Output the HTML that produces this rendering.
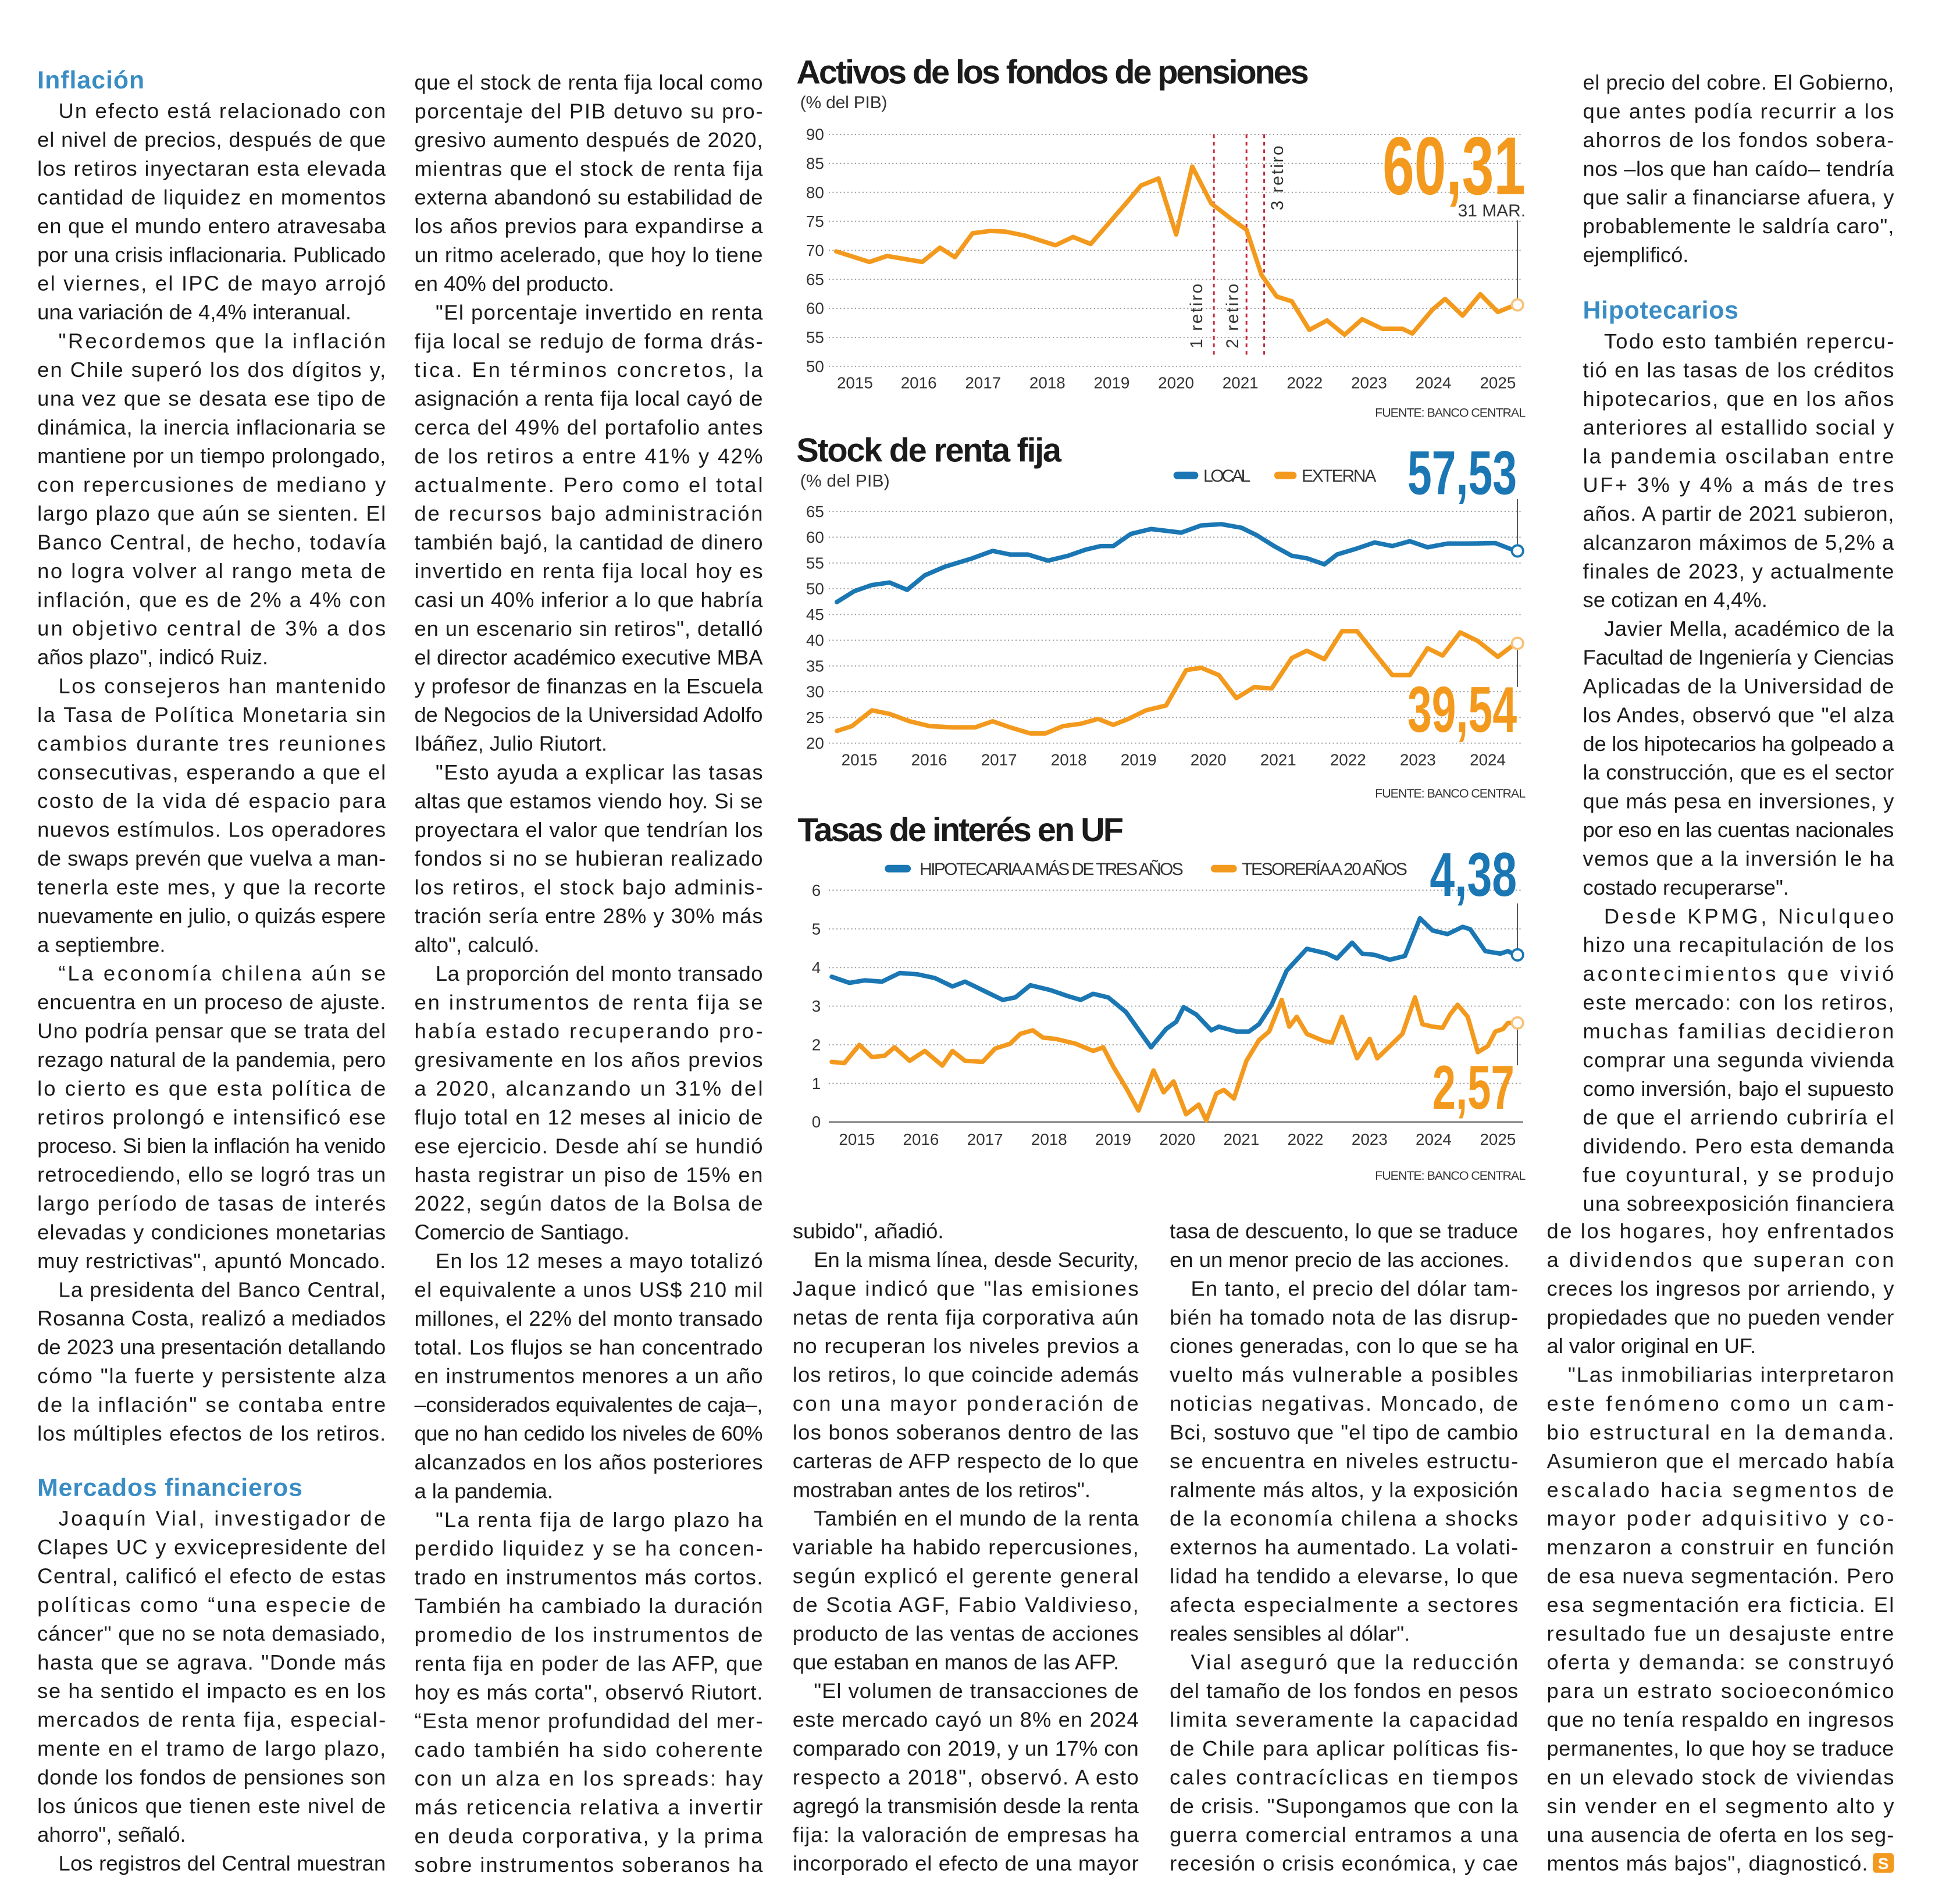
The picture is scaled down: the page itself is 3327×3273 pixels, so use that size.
<!DOCTYPE html>
<html><head><meta charset="utf-8"><style>
html,body{margin:0;padding:0;background:#fff;}
svg{display:block}
.b{font-family:"Liberation Sans",sans-serif;font-size:17px;fill:#1b1b1b}
.h{font-family:"Liberation Sans",sans-serif;font-size:20px;font-weight:bold;fill:#3a8dc4}
.t{font-family:"Liberation Sans",sans-serif;font-size:27px;font-weight:bold;fill:#1b1b1b}
.s{font-family:"Liberation Sans",sans-serif;font-size:14px;fill:#333}
.ax{font-family:"Liberation Sans",sans-serif;font-size:13px;fill:#333}
.f{font-family:"Liberation Sans",sans-serif;font-size:10px;fill:#333}
.big{font-family:"Liberation Sans",sans-serif;font-weight:bold}
.g{stroke:#9a9a9a;stroke-width:0.9;stroke-dasharray:1 2}
</style></head><body>
<svg width="3327" height="3273" viewBox="0 0 1555 1530" preserveAspectRatio="none" xmlns="http://www.w3.org/2000/svg">
<rect width="1555" height="1530" fill="#fff"/>

<!-- COLUMN 1 -->
<text class="h" x="30" y="71" textLength="86">Inflación</text>
<g class="b" transform="translate(30,95)">
<text x="17" y="0" textLength="263">Un efecto está relacionado con</text>
<text y="23.1" textLength="280">el nivel de precios, después de que</text>
<text y="46.2" textLength="280">los retiros inyectaran esta elevada</text>
<text y="69.3" textLength="280">cantidad de liquidez en momentos</text>
<text y="92.4" textLength="280">en que el mundo entero atravesaba</text>
<text y="115.5" textLength="280">por una crisis inflacionaria. Publicado</text>
<text y="138.6" textLength="280">el viernes, el IPC de mayo arrojó</text>
<text y="161.7">una variación de 4,4% interanual.</text>
<text x="17" y="184.8" textLength="263">"Recordemos que la inflación</text>
<text y="207.9" textLength="280">en Chile superó los dos dígitos y,</text>
<text y="231" textLength="280">una vez que se desata ese tipo de</text>
<text y="254.1" textLength="280">dinámica, la inercia inflacionaria se</text>
<text y="277.2" textLength="280">mantiene por un tiempo prolongado,</text>
<text y="300.3" textLength="280">con repercusiones de mediano y</text>
<text y="323.4" textLength="280">largo plazo que aún se sienten. El</text>
<text y="346.5" textLength="280">Banco Central, de hecho, todavía</text>
<text y="369.6" textLength="280">no logra volver al rango meta de</text>
<text y="392.7" textLength="280">inflación, que es de 2% a 4% con</text>
<text y="415.8" textLength="280">un objetivo central de 3% a dos</text>
<text y="438.9">años plazo", indicó Ruiz.</text>
<text x="17" y="462" textLength="263">Los consejeros han mantenido</text>
<text y="485.1" textLength="280">la Tasa de Política Monetaria sin</text>
<text y="508.2" textLength="280">cambios durante tres reuniones</text>
<text y="531.3" textLength="280">consecutivas, esperando a que el</text>
<text y="554.4" textLength="280">costo de la vida dé espacio para</text>
<text y="577.5" textLength="280">nuevos estímulos. Los operadores</text>
<text y="600.6" textLength="280">de swaps prevén que vuelva a man-</text>
<text y="623.7" textLength="280">tenerla este mes, y que la recorte</text>
<text y="646.8" textLength="280">nuevamente en julio, o quizás espere</text>
<text y="669.9">a septiembre.</text>
<text x="17" y="693" textLength="263">“La economía chilena aún se</text>
<text y="716.1" textLength="280">encuentra en un proceso de ajuste.</text>
<text y="739.2" textLength="280">Uno podría pensar que se trata del</text>
<text y="762.3" textLength="280">rezago natural de la pandemia, pero</text>
<text y="785.4" textLength="280">lo cierto es que esta política de</text>
<text y="808.5" textLength="280">retiros prolongó e intensificó ese</text>
<text y="831.6" textLength="280">proceso. Si bien la inflación ha venido</text>
<text y="854.7" textLength="280">retrocediendo, ello se logró tras un</text>
<text y="877.8" textLength="280">largo período de tasas de interés</text>
<text y="900.9" textLength="280">elevadas y condiciones monetarias</text>
<text y="924" textLength="280">muy restrictivas", apuntó Moncado.</text>
<text x="17" y="947.1" textLength="263">La presidenta del Banco Central,</text>
<text y="970.2" textLength="280">Rosanna Costa, realizó a mediados</text>
<text y="993.3" textLength="280">de 2023 una presentación detallando</text>
<text y="1016.4" textLength="280">cómo "la fuerte y persistente alza</text>
<text y="1039.5" textLength="280">de la inflación" se contaba entre</text>
<text y="1062.6" textLength="280">los múltiples efectos de los retiros.</text>
</g>
<text class="h" x="30" y="1202" textLength="213">Mercados financieros</text>
<g class="b" transform="translate(30,1226)">
<text x="17" y="0" textLength="263">Joaquín Vial, investigador de</text>
<text y="23.1" textLength="280">Clapes UC y exvicepresidente del</text>
<text y="46.2" textLength="280">Central, calificó el efecto de estas</text>
<text y="69.3" textLength="280">políticas como “una especie de</text>
<text y="92.4" textLength="280">cáncer" que no se nota demasiado,</text>
<text y="115.5" textLength="280">hasta que se agrava. "Donde más</text>
<text y="138.6" textLength="280">se ha sentido el impacto es en los</text>
<text y="161.7" textLength="280">mercados de renta fija, especial-</text>
<text y="184.8" textLength="280">mente en el tramo de largo plazo,</text>
<text y="207.9" textLength="280">donde los fondos de pensiones son</text>
<text y="231" textLength="280">los únicos que tienen este nivel de</text>
<text y="254.1">ahorro", señaló.</text>
<text x="17" y="277.2" textLength="263">Los registros del Central muestran</text>
</g>

<!-- COLUMN 2 -->
<g class="b" transform="translate(333,72)">
<text y="0" textLength="280">que el stock de renta fija local como</text>
<text y="23.1" textLength="280">porcentaje del PIB detuvo su pro-</text>
<text y="46.2" textLength="280">gresivo aumento después de 2020,</text>
<text y="69.3" textLength="280">mientras que el stock de renta fija</text>
<text y="92.4" textLength="280">externa abandonó su estabilidad de</text>
<text y="115.5" textLength="280">los años previos para expandirse a</text>
<text y="138.6" textLength="280">un ritmo acelerado, que hoy lo tiene</text>
<text y="161.7">en 40% del producto.</text>
<text x="17" y="184.8" textLength="263">"El porcentaje invertido en renta</text>
<text y="207.9" textLength="280">fija local se redujo de forma drás-</text>
<text y="231" textLength="280">tica. En términos concretos, la</text>
<text y="254.1" textLength="280">asignación a renta fija local cayó de</text>
<text y="277.2" textLength="280">cerca del 49% del portafolio antes</text>
<text y="300.3" textLength="280">de los retiros a entre 41% y 42%</text>
<text y="323.4" textLength="280">actualmente. Pero como el total</text>
<text y="346.5" textLength="280">de recursos bajo administración</text>
<text y="369.6" textLength="280">también bajó, la cantidad de dinero</text>
<text y="392.7" textLength="280">invertido en renta fija local hoy es</text>
<text y="415.8" textLength="280">casi un 40% inferior a lo que habría</text>
<text y="438.9" textLength="280">en un escenario sin retiros", detalló</text>
<text y="462" textLength="280">el director académico executive MBA</text>
<text y="485.1" textLength="280">y profesor de finanzas en la Escuela</text>
<text y="508.2" textLength="280">de Negocios de la Universidad Adolfo</text>
<text y="531.3">Ibáñez, Julio Riutort.</text>
<text x="17" y="554.4" textLength="263">"Esto ayuda a explicar las tasas</text>
<text y="577.5" textLength="280">altas que estamos viendo hoy. Si se</text>
<text y="600.6" textLength="280">proyectara el valor que tendrían los</text>
<text y="623.7" textLength="280">fondos si no se hubieran realizado</text>
<text y="646.8" textLength="280">los retiros, el stock bajo adminis-</text>
<text y="669.9" textLength="280">tración sería entre 28% y 30% más</text>
<text y="693">alto", calculó.</text>
<text x="17" y="716.1" textLength="263">La proporción del monto transado</text>
<text y="739.2" textLength="280">en instrumentos de renta fija se</text>
<text y="762.3" textLength="280">había estado recuperando pro-</text>
<text y="785.4" textLength="280">gresivamente en los años previos</text>
<text y="808.5" textLength="280">a 2020, alcanzando un 31% del</text>
<text y="831.6" textLength="280">flujo total en 12 meses al inicio de</text>
<text y="854.7" textLength="280">ese ejercicio. Desde ahí se hundió</text>
<text y="877.8" textLength="280">hasta registrar un piso de 15% en</text>
<text y="900.9" textLength="280">2022, según datos de la Bolsa de</text>
<text y="924">Comercio de Santiago.</text>
<text x="17" y="947.1" textLength="263">En los 12 meses a mayo totalizó</text>
<text y="970.2" textLength="280">el equivalente a unos US$ 210 mil</text>
<text y="993.3" textLength="280">millones, el 22% del monto transado</text>
<text y="1016.4" textLength="280">total. Los flujos se han concentrado</text>
<text y="1039.5" textLength="280">en instrumentos menores a un año</text>
<text y="1062.6" textLength="280">–considerados equivalentes de caja–,</text>
<text y="1085.7" textLength="280">que no han cedido los niveles de 60%</text>
<text y="1108.8" textLength="280">alcanzados en los años posteriores</text>
<text y="1131.9">a la pandemia.</text>
<text x="17" y="1155" textLength="263">"La renta fija de largo plazo ha</text>
<text y="1178.1" textLength="280">perdido liquidez y se ha concen-</text>
<text y="1201.2" textLength="280">trado en instrumentos más cortos.</text>
<text y="1224.3" textLength="280">También ha cambiado la duración</text>
<text y="1247.4" textLength="280">promedio de los instrumentos de</text>
<text y="1270.5" textLength="280">renta fija en poder de las AFP, que</text>
<text y="1293.6" textLength="280">hoy es más corta", observó Riutort.</text>
<text y="1316.7" textLength="280">“Esta menor profundidad del mer-</text>
<text y="1339.8" textLength="280">cado también ha sido coherente</text>
<text y="1362.9" textLength="280">con un alza en los spreads: hay</text>
<text y="1386" textLength="280">más reticencia relativa a invertir</text>
<text y="1409.1" textLength="280">en deuda corporativa, y la prima</text>
<text y="1432.2" textLength="280">sobre instrumentos soberanos ha</text>
</g>

<!-- COLUMN 3 -->
<g class="b" transform="translate(637,995)">
<text y="0">subido", añadió.</text>
<text x="17" y="23.1" textLength="261">En la misma línea, desde Security,</text>
<text y="46.2" textLength="278">Jaque indicó que "las emisiones</text>
<text y="69.3" textLength="278">netas de renta fija corporativa aún</text>
<text y="92.4" textLength="278">no recuperan los niveles previos a</text>
<text y="115.5" textLength="278">los retiros, lo que coincide además</text>
<text y="138.6" textLength="278">con una mayor ponderación de</text>
<text y="161.7" textLength="278">los bonos soberanos dentro de las</text>
<text y="184.8" textLength="278">carteras de AFP respecto de lo que</text>
<text y="207.9">mostraban antes de los retiros".</text>
<text x="17" y="231" textLength="261">También en el mundo de la renta</text>
<text y="254.1" textLength="278">variable ha habido repercusiones,</text>
<text y="277.2" textLength="278">según explicó el gerente general</text>
<text y="300.3" textLength="278">de Scotia AGF, Fabio Valdivieso,</text>
<text y="323.4" textLength="278">producto de las ventas de acciones</text>
<text y="346.5">que estaban en manos de las AFP.</text>
<text x="17" y="369.6" textLength="261">"El volumen de transacciones de</text>
<text y="392.7" textLength="278">este mercado cayó un 8% en 2024</text>
<text y="415.8" textLength="278">comparado con 2019, y un 17% con</text>
<text y="438.9" textLength="278">respecto a 2018", observó. A esto</text>
<text y="462" textLength="278">agregó la transmisión desde la renta</text>
<text y="485.1" textLength="278">fija: la valoración de empresas ha</text>
<text y="508.2" textLength="278">incorporado el efecto de una mayor</text>
</g>

<!-- COLUMN 4 -->
<g class="b" transform="translate(940,995)">
<text y="0" textLength="280">tasa de descuento, lo que se traduce</text>
<text y="23.1">en un menor precio de las acciones.</text>
<text x="17" y="46.2" textLength="263">En tanto, el precio del dólar tam-</text>
<text y="69.3" textLength="280">bién ha tomado nota de las disrup-</text>
<text y="92.4" textLength="280">ciones generadas, con lo que se ha</text>
<text y="115.5" textLength="280">vuelto más vulnerable a posibles</text>
<text y="138.6" textLength="280">noticias negativas. Moncado, de</text>
<text y="161.7" textLength="280">Bci, sostuvo que "el tipo de cambio</text>
<text y="184.8" textLength="280">se encuentra en niveles estructu-</text>
<text y="207.9" textLength="280">ralmente más altos, y la exposición</text>
<text y="231" textLength="280">de la economía chilena a shocks</text>
<text y="254.1" textLength="280">externos ha aumentado. La volati-</text>
<text y="277.2" textLength="280">lidad ha tendido a elevarse, lo que</text>
<text y="300.3" textLength="280">afecta especialmente a sectores</text>
<text y="323.4">reales sensibles al dólar".</text>
<text x="17" y="346.5" textLength="263">Vial aseguró que la reducción</text>
<text y="369.6" textLength="280">del tamaño de los fondos en pesos</text>
<text y="392.7" textLength="280">limita severamente la capacidad</text>
<text y="415.8" textLength="280">de Chile para aplicar políticas fis-</text>
<text y="438.9" textLength="280">cales contracíclicas en tiempos</text>
<text y="462" textLength="280">de crisis. "Supongamos que con la</text>
<text y="485.1" textLength="280">guerra comercial entramos a una</text>
<text y="508.2" textLength="280">recesión o crisis económica, y cae</text>
</g>

<!-- COLUMN 5 -->
<g class="b" transform="translate(1272,72)">
<text y="0" textLength="250">el precio del cobre. El Gobierno,</text>
<text y="23.1" textLength="250">que antes podía recurrir a los</text>
<text y="46.2" textLength="250">ahorros de los fondos sobera-</text>
<text y="69.3" textLength="250">nos –los que han caído– tendría</text>
<text y="92.4" textLength="250">que salir a financiarse afuera, y</text>
<text y="115.5" textLength="250">probablemente le saldría caro",</text>
<text y="138.6">ejemplificó.</text>
</g>
<text class="h" x="1272" y="256" textLength="125">Hipotecarios</text>
<g class="b" transform="translate(1272,280)">
<text x="17" y="0" textLength="233">Todo esto también repercu-</text>
<text y="23.1" textLength="250">tió en las tasas de los créditos</text>
<text y="46.2" textLength="250">hipotecarios, que en los años</text>
<text y="69.3" textLength="250">anteriores al estallido social y</text>
<text y="92.4" textLength="250">la pandemia oscilaban entre</text>
<text y="115.5" textLength="250">UF+ 3% y 4% a más de tres</text>
<text y="138.6" textLength="250">años. A partir de 2021 subieron,</text>
<text y="161.7" textLength="250">alcanzaron máximos de 5,2% a</text>
<text y="184.8" textLength="250">finales de 2023, y actualmente</text>
<text y="207.9">se cotizan en 4,4%.</text>
<text x="17" y="231" textLength="233">Javier Mella, académico de la</text>
<text y="254.1" textLength="250">Facultad de Ingeniería y Ciencias</text>
<text y="277.2" textLength="250">Aplicadas de la Universidad de</text>
<text y="300.3" textLength="250">los Andes, observó que "el alza</text>
<text y="323.4" textLength="250">de los hipotecarios ha golpeado a</text>
<text y="346.5" textLength="250">la construcción, que es el sector</text>
<text y="369.6" textLength="250">que más pesa en inversiones, y</text>
<text y="392.7" textLength="250">por eso en las cuentas nacionales</text>
<text y="415.8" textLength="250">vemos que a la inversión le ha</text>
<text y="438.9">costado recuperarse".</text>
<text x="17" y="462" textLength="233">Desde KPMG, Niculqueo</text>
<text y="485.1" textLength="250">hizo una recapitulación de los</text>
<text y="508.2" textLength="250">acontecimientos que vivió</text>
<text y="531.3" textLength="250">este mercado: con los retiros,</text>
<text y="554.4" textLength="250">muchas familias decidieron</text>
<text y="577.5" textLength="250">comprar una segunda vivienda</text>
<text y="600.6" textLength="250">como inversión, bajo el supuesto</text>
<text y="623.7" textLength="250">de que el arriendo cubriría el</text>
<text y="646.8" textLength="250">dividendo. Pero esta demanda</text>
<text y="669.9" textLength="250">fue coyuntural, y se produjo</text>
<text y="693" textLength="250">una sobreexposición financiera</text>
</g>
<g class="b" transform="translate(1243,995)">
<text y="0" textLength="279">de los hogares, hoy enfrentados</text>
<text y="23.1" textLength="279">a dividendos que superan con</text>
<text y="46.2" textLength="279">creces los ingresos por arriendo, y</text>
<text y="69.3" textLength="279">propiedades que no pueden vender</text>
<text y="92.4">al valor original en UF.</text>
<text x="17" y="115.5" textLength="262">"Las inmobiliarias interpretaron</text>
<text y="138.6" textLength="279">este fenómeno como un cam-</text>
<text y="161.7" textLength="279">bio estructural en la demanda.</text>
<text y="184.8" textLength="279">Asumieron que el mercado había</text>
<text y="207.9" textLength="279">escalado hacia segmentos de</text>
<text y="231" textLength="279">mayor poder adquisitivo y co-</text>
<text y="254.1" textLength="279">menzaron a construir en función</text>
<text y="277.2" textLength="279">de esa nueva segmentación. Pero</text>
<text y="300.3" textLength="279">esa segmentación era ficticia. El</text>
<text y="323.4" textLength="279">resultado fue un desajuste entre</text>
<text y="346.5" textLength="279">oferta y demanda: se construyó</text>
<text y="369.6" textLength="279">para un estrato socioeconómico</text>
<text y="392.7" textLength="279">que no tenía respaldo en ingresos</text>
<text y="415.8" textLength="279">permanentes, lo que hoy se traduce</text>
<text y="438.9" textLength="279">en un elevado stock de viviendas</text>
<text y="462" textLength="279">sin vender en el segmento alto y</text>
<text y="485.1" textLength="279">una ausencia de oferta en los seg-</text>
<text y="508.2" textLength="258">mentos más bajos", diagnosticó.</text>
</g>
<rect x="1505" y="1489" width="17" height="16" rx="3" fill="#f39a1e"/>
<text x="1513.5" y="1502" text-anchor="middle" font-family="Liberation Sans" font-size="13" font-weight="bold" fill="#fff">S</text>

<!-- CHART 1 -->
<text class="t" x="640" y="67" textLength="412">Activos de los fondos de pensiones</text>
<text class="s" x="643" y="87" textLength="70">(% del PIB)</text>
<g class="g">
<line x1="666" x2="1224" y1="108" y2="108"/><line x1="666" x2="1224" y1="131.3" y2="131.3"/><line x1="666" x2="1224" y1="154.6" y2="154.6"/><line x1="666" x2="1224" y1="177.9" y2="177.9"/><line x1="666" x2="1224" y1="201.2" y2="201.2"/><line x1="666" x2="1224" y1="224.5" y2="224.5"/><line x1="666" x2="1224" y1="247.8" y2="247.8"/><line x1="666" x2="1224" y1="271.1" y2="271.1"/><line x1="666" x2="1224" y1="294.4" y2="294.4"/>
</g>
<g class="ax" text-anchor="middle">
<text x="655" y="112.5">90</text><text x="655" y="135.8">85</text><text x="655" y="159.1">80</text><text x="655" y="182.4">75</text><text x="655" y="205.7">70</text><text x="655" y="229">65</text><text x="655" y="252.3">60</text><text x="655" y="275.6">55</text><text x="655" y="298.9">50</text>
<text x="687" y="312">2015</text><text x="738.3" y="312">2016</text><text x="790" y="312">2017</text><text x="841.7" y="312">2018</text><text x="893.4" y="312">2019</text><text x="945.1" y="312">2020</text><text x="996.8" y="312">2021</text><text x="1048.5" y="312">2022</text><text x="1100.2" y="312">2023</text><text x="1151.9" y="312">2024</text><text x="1203.7" y="312">2025</text>
</g>
<g stroke="#c8283c" stroke-width="1.4" stroke-dasharray="3 3">
<line x1="975.5" x2="975.5" y1="108" y2="288"/><line x1="1001.7" x2="1001.7" y1="108" y2="288"/><line x1="1015.9" x2="1015.9" y1="108" y2="288"/>
</g>
<g class="s" font-size="14">
<text transform="translate(966,254) rotate(-90)" text-anchor="middle" textLength="52">1 retiro</text>
<text transform="translate(995,254) rotate(-90)" text-anchor="middle" textLength="52">2 retiro</text>
<text transform="translate(1031,143) rotate(-90)" text-anchor="middle" textLength="52">3 retiro</text>
</g>
<polyline fill="none" stroke="#f39a1e" stroke-width="3.6" stroke-linejoin="round" stroke-linecap="round" points="672,202 698.7,210.5 712.9,205.7 741.1,210.5 755.3,199 767.4,206.7 781.5,187.5 795.7,185.6 807.8,186.1 824,189.4 848.2,197.1 862.3,190.4 876.5,196.1 904.8,163.5 916.9,149.1 931,143.4 945.2,188.4 958.1,133.8 973.4,163.5 989.6,176 1001.7,184.6 1013.8,221 1026,238.3 1038.1,242.1 1052.2,265.1 1066.4,257.5 1080.5,269 1094.6,256.5 1110.8,264.2 1127,264.2 1135,268 1151.2,248.8 1161.3,240.2 1175.4,253.6 1189.6,236.4 1203.7,250.7 1217.9,245"/>
<line x1="1219.5" x2="1219.5" y1="177" y2="240" stroke="#444" stroke-width="0.8"/>
<circle cx="1219.5" cy="245" r="4.5" fill="#fff" stroke="#f7c27a" stroke-width="1.8"/>
<text class="big" x="1111" y="156" font-size="66" fill="#f39a1e" textLength="115" lengthAdjust="spacingAndGlyphs">60,31</text>
<text class="s" x="1226" y="174" text-anchor="end" font-size="12">31 MAR.</text>
<text class="f" x="1226" y="335" text-anchor="end" textLength="121">FUENTE: BANCO CENTRAL</text>

<!-- CHART 2 -->
<text class="t" x="640" y="371" textLength="213">Stock de renta fija</text>
<text class="s" x="643" y="391" textLength="72">(% del PIB)</text>
<line x1="946" x2="960" y1="382" y2="382" stroke="#1a77b3" stroke-width="6" stroke-linecap="round"/>
<text class="s" x="967" y="387" font-size="13" textLength="38">LOCAL</text>
<line x1="1027" x2="1039" y1="382" y2="382" stroke="#f39a1e" stroke-width="6" stroke-linecap="round"/>
<text class="s" x="1046" y="387" font-size="13" textLength="60">EXTERNA</text>
<g class="g">
<line x1="666" x2="1224" y1="411" y2="411"/><line x1="666" x2="1224" y1="431.7" y2="431.7"/><line x1="666" x2="1224" y1="452.4" y2="452.4"/><line x1="666" x2="1224" y1="473.1" y2="473.1"/><line x1="666" x2="1224" y1="493.8" y2="493.8"/><line x1="666" x2="1224" y1="514.5" y2="514.5"/><line x1="666" x2="1224" y1="535.1" y2="535.1"/><line x1="666" x2="1224" y1="555.8" y2="555.8"/><line x1="666" x2="1224" y1="576.5" y2="576.5"/><line x1="666" x2="1224" y1="597.2" y2="597.2"/>
</g>
<g class="ax" text-anchor="middle">
<text x="655" y="415.5">65</text><text x="655" y="436.2">60</text><text x="655" y="456.9">55</text><text x="655" y="477.6">50</text><text x="655" y="498.3">45</text><text x="655" y="519">40</text><text x="655" y="539.6">35</text><text x="655" y="560.3">30</text><text x="655" y="581">25</text><text x="655" y="601.7">20</text>
<text x="690.6" y="615">2015</text><text x="746.7" y="615">2016</text><text x="802.8" y="615">2017</text><text x="858.9" y="615">2018</text><text x="915" y="615">2019</text><text x="971.1" y="615">2020</text><text x="1027.2" y="615">2021</text><text x="1083.3" y="615">2022</text><text x="1139.4" y="615">2023</text><text x="1195.6" y="615">2024</text>
</g>
<polyline fill="none" stroke="#1a77b3" stroke-width="3.6" stroke-linejoin="round" stroke-linecap="round" points="672.5,483.8 686.6,475 700.7,470.1 714.9,468.1 729,474 743.2,462.3 759.3,455.4 781.5,448.6 797.7,442.7 811.8,445.6 826,445.6 842.1,450.5 858.3,446.6 872.4,441.7 884.6,438.8 894.7,438.8 908.8,429 925,425.1 949.2,428 965.4,422.2 981.5,421.2 997.7,424.1 1009.8,430 1023.9,438.8 1038.1,446.6 1050.2,448.6 1064.3,453.5 1074.4,445.6 1090.6,440.7 1104.7,435.9 1118.9,438.8 1133,434.9 1147.2,439.8 1163.3,436.8 1179.5,436.8 1201.7,436.4 1217.9,442.7"/>
<polyline fill="none" stroke="#f39a1e" stroke-width="3.6" stroke-linejoin="round" stroke-linecap="round" points="672.5,587.4 684.6,583.5 700.7,570.8 714.9,573.7 731,579.6 747.2,583.5 765.4,584.5 783.6,584.5 797.7,579.6 811.8,584.5 828,589.4 840.1,589.4 854.3,583.5 868.4,581.6 882.5,577.7 894.7,582.5 906.8,577.7 920.9,570.8 937.1,566.9 953.2,538.5 965.4,536.6 979.5,542.5 993.6,561 1007.8,552.2 1021.9,553.2 1038.1,528.8 1050.2,522.9 1064.3,529.7 1078.5,507.2 1090.6,507.2 1104.7,524.9 1118.9,542.5 1133,542.5 1147.2,520.9 1159.3,526.8 1173.4,508.2 1187.6,515.1 1203.7,527.8 1217.9,517"/>
<line x1="1219.5" x2="1219.5" y1="401" y2="438" stroke="#444" stroke-width="0.8"/>
<line x1="1219.5" x2="1219.5" y1="522" y2="552" stroke="#444" stroke-width="0.8"/>
<circle cx="1219.5" cy="442.7" r="4.5" fill="#fff" stroke="#1a77b3" stroke-width="1.8"/>
<circle cx="1219.5" cy="517" r="4.5" fill="#fff" stroke="#f7c27a" stroke-width="1.8"/>
<text class="big" x="1131" y="397" font-size="50" fill="#1a77b3" textLength="88" lengthAdjust="spacingAndGlyphs">57,53</text>
<text class="big" x="1131" y="588" font-size="52" fill="#f39a1e" textLength="88" lengthAdjust="spacingAndGlyphs">39,54</text>
<text class="f" x="1226" y="641" text-anchor="end" textLength="121">FUENTE: BANCO CENTRAL</text>

<!-- CHART 3 -->
<text class="t" x="641" y="676" textLength="262">Tasas de interés en UF</text>
<line x1="714" x2="729" y1="698" y2="698" stroke="#1a77b3" stroke-width="6" stroke-linecap="round"/>
<text class="s" x="739" y="703" font-size="13" textLength="212">HIPOTECARIA A MÁS DE TRES AÑOS</text>
<line x1="976" x2="991" y1="698" y2="698" stroke="#f39a1e" stroke-width="6" stroke-linecap="round"/>
<text class="s" x="998" y="703" font-size="13" textLength="133">TESORERÍA A 20 AÑOS</text>
<g class="g">
<line x1="666" x2="1224" y1="715.4" y2="715.4"/><line x1="666" x2="1224" y1="746.4" y2="746.4"/><line x1="666" x2="1224" y1="777.5" y2="777.5"/><line x1="666" x2="1224" y1="808.5" y2="808.5"/><line x1="666" x2="1224" y1="839.6" y2="839.6"/><line x1="666" x2="1224" y1="870.6" y2="870.6"/>
</g>
<line x1="666" x2="1224" y1="901.6" y2="901.6" stroke="#555" stroke-width="1"/>
<g class="ax" text-anchor="middle">
<text x="656" y="720">6</text><text x="656" y="751">5</text><text x="656" y="782">4</text><text x="656" y="813">3</text><text x="656" y="844">2</text><text x="656" y="875">1</text><text x="656" y="906">0</text>
<text x="688.6" y="920">2015</text><text x="740.1" y="920">2016</text><text x="791.6" y="920">2017</text><text x="843.1" y="920">2018</text><text x="894.6" y="920">2019</text><text x="946.1" y="920">2020</text><text x="997.6" y="920">2021</text><text x="1049.1" y="920">2022</text><text x="1100.6" y="920">2023</text><text x="1152.1" y="920">2024</text><text x="1203.7" y="920">2025</text>
</g>
<polyline fill="none" stroke="#1a77b3" stroke-width="3.6" stroke-linejoin="round" stroke-linecap="round" points="668.4,784.9 682.6,789.8 694.7,787.8 708.8,788.8 723,781.9 737.1,782.9 751.2,785.9 765.4,792.7 775.5,788.8 791.6,796.6 805.8,803.5 815.9,801.5 828,791.7 844.2,795.6 858.3,800.5 868.4,803.5 878.5,798.6 890.6,801.5 904.8,813.2 925,841.6 937.1,826.9 945.2,821.1 951.2,809.3 961.3,815.2 973.4,827.9 979.5,825 993.6,828.9 1003.7,828.9 1011.8,823 1021.9,807.4 1034,780 1050.2,762.4 1066.4,766.3 1074.4,770.2 1086.6,757.5 1094.6,766.3 1104.7,767.3 1116.9,771.2 1129,768.2 1141.1,737.9 1151.2,747.7 1163.3,750.6 1175.4,744.8 1181.5,746.7 1193.6,764.3 1205.7,766.3 1211.8,764.3 1217.9,767.3"/>
<polyline fill="none" stroke="#f39a1e" stroke-width="3.6" stroke-linejoin="round" stroke-linecap="round" points="668.4,853.3 678.5,854.3 690.6,839.6 700.7,849.4 710.8,848.4 718.9,841.6 731,852.4 743.2,844.5 757.3,856.3 765.4,844.5 775.5,852.4 789.6,853.3 799.7,842.6 811.8,838.7 819.9,830.8 830,827.9 838.1,833.8 848.2,834.8 864.4,838.7 878.5,844.5 886.6,841.6 894.7,857.2 904.8,873.9 914.9,892.4 927,860.2 935.1,877.8 943.1,869 953.2,895.4 963.3,887.6 969.4,900.3 977.5,878.8 983.5,875.8 991.6,882.7 1001.7,852.4 1011.8,835.7 1019.9,828.9 1030,803.5 1036.1,825 1042.1,817.1 1050.2,830.8 1064.3,836.7 1070.4,837.7 1078.5,817.1 1090.6,850.4 1100.7,834.8 1106.8,850.4 1118.9,838.7 1127,830.8 1137.1,801.5 1143.1,823 1151.2,825 1159.3,825.9 1165.3,815.2 1171.4,807.4 1179.5,817.1 1187.6,845.5 1195.6,840.6 1201.7,828.9 1207.8,826.9 1211.8,822 1217.9,822"/>
<line x1="1219.5" x2="1219.5" y1="726" y2="763" stroke="#444" stroke-width="0.8"/>
<line x1="1219.5" x2="1219.5" y1="827" y2="856" stroke="#444" stroke-width="0.8"/>
<circle cx="1219.5" cy="767.3" r="4.5" fill="#fff" stroke="#1a77b3" stroke-width="1.8"/>
<circle cx="1219.5" cy="822" r="4.5" fill="#fff" stroke="#f7c27a" stroke-width="1.8"/>
<text class="big" x="1149" y="720" font-size="50" fill="#1a77b3" textLength="70" lengthAdjust="spacingAndGlyphs">4,38</text>
<text class="big" x="1151" y="891" font-size="50" fill="#f39a1e" textLength="66" lengthAdjust="spacingAndGlyphs">2,57</text>
<text class="f" x="1226" y="948" text-anchor="end" textLength="121">FUENTE: BANCO CENTRAL</text>
</svg>
</body></html>
